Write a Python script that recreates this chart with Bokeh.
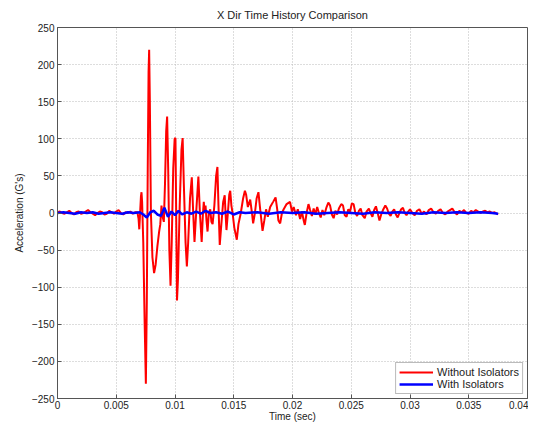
from bokeh.plotting import figure
from bokeh.models import Legend, LegendItem, FixedTicker, Range1d
from bokeh.embed import file_html
from bokeh.resources import INLINE

# ---- data: (time [s], acceleration [G]) ----
red_points = [
    (0.0000, 1), (0.0002, 2), (0.0004, 0), (0.0006, -1), (0.0008, 1), (0.0010, 3),
    (0.0012, 0), (0.0014, -2), (0.0016, 1), (0.0018, 2), (0.0020, -1), (0.0022, 0),
    (0.0024, 2), (0.0026, 4), (0.0028, 1), (0.0030, -1), (0.0032, -3), (0.0034, 0),
    (0.0036, 2), (0.0038, 1), (0.0040, -2), (0.0042, -1), (0.0044, 3), (0.0046, 1),
    (0.0048, -1), (0.0050, 2), (0.0052, 4), (0.0054, 0), (0.0056, -2), (0.0058, 1),
    (0.0060, 0), (0.0062, 2), (0.0064, -1), (0.0066, 1), (0.0068, 1),
    (0.00690, -8), (0.00696, -22), (0.00703, 0), (0.00710, 22), (0.00715, 28),
    (0.00720, 15), (0.00730, -40), (0.00742, -150), (0.00752, -230), (0.00760, -120),
    (0.00768, 60), (0.00775, 190), (0.00780, 220), (0.00786, 150), (0.00795, 0),
    (0.00808, -60), (0.00822, -81), (0.00835, -70), (0.00850, -45), (0.00865, -25),
    (0.00875, -15), (0.00885, 10), (0.00895, -5), (0.00905, -12), (0.00915, 40),
    (0.00925, 110), (0.00933, 130), (0.00942, 60), (0.00952, -50), (0.00962, -98),
    (0.00972, -40), (0.00985, 60), (0.00997, 100), (0.01004, 101), (0.01010, 0),
    (0.01017, -118), (0.01025, -90), (0.01040, 10), (0.01055, 85), (0.01065, 101),
    (0.01075, 40), (0.01090, -40), (0.01101, -72), (0.01112, -40), (0.01128, 20),
    (0.01143, 48), (0.01155, 0), (0.01166, -39), (0.01180, 0), (0.01199, 49),
    (0.01212, 0), (0.01227, -39), (0.01238, 0), (0.01245, 15), (0.01252, 0),
    (0.01260, 10), (0.01268, -10), (0.01277, -25), (0.01288, 0), (0.01300, 5),
    (0.01310, -12), (0.01320, -15), (0.01335, 10), (0.01350, 50), (0.01361, 62),
    (0.01370, 10), (0.01381, -43), (0.01392, -20), (0.01410, 15), (0.01423, 24),
    (0.01430, 0), (0.01438, -23), (0.01450, 0), (0.01462, 25), (0.01470, 30),
    (0.01480, 10), (0.01490, 0), (0.01505, -20), (0.01526, -36), (0.01540, -15),
    (0.01560, 0), (0.01580, 20), (0.01595, 30), (0.01605, 25), (0.01620, 8),
    (0.01640, 18), (0.01655, 0), (0.01665, -14), (0.01680, 0), (0.01695, 20),
    (0.01710, 28), (0.01725, 5), (0.01745, -24), (0.01760, -10), (0.01775, 5),
    (0.01790, -5), (0.01810, 8), (0.01835, 15), (0.01856, 21), (0.01870, 5),
    (0.01880, -10), (0.01895, -14), (0.01910, 0), (0.01925, 5), (0.01950, 12),
    (0.01979, 15), (0.01995, 2), (0.02010, 8), (0.02030, -3), (0.02045, 5),
    (0.02065, -8), (0.02080, 2), (0.02095, -10), (0.02105, -16), (0.02120, 0),
    (0.02136, 12), (0.02150, 4), (0.02165, -4), (0.02180, 6), (0.02195, -2),
    (0.02210, 8), (0.02225, 0), (0.02240, -6), (0.02255, 4), (0.02270, -3),
    (0.02290, 8), (0.02305, 14), (0.02320, 10), (0.02335, -2), (0.02350, -7),
    (0.02365, 3), (0.02380, -2), (0.02395, 6), (0.02415, 12), (0.02430, 10),
    (0.02445, -3), (0.02460, -5), (0.02475, 5), (0.02490, 2), (0.02505, 13),
    (0.02520, 12), (0.02535, 0), (0.02550, -4), (0.02565, 3), (0.02580, 6),
    (0.02595, -3), (0.02615, -7), (0.02630, 2), (0.02650, 6), (0.02665, 0),
    (0.02680, -5), (0.02695, 4), (0.02710, 9), (0.02725, 0), (0.02740, -10),
    (0.02755, -2), (0.02770, 4), (0.02790, 10), (0.02805, 6), (0.02820, -1),
    (0.02835, -4), (0.02850, 2), (0.02865, 5), (0.02880, -2), (0.02895, -6),
    (0.02910, 0), (0.02925, 5), (0.02940, 7), (0.02955, 0), (0.02970, -3),
    (0.02985, 2), (0.03000, 5), (0.0302, 0), (0.0304, -3), (0.0306, 3), (0.0308, 5),
    (0.0310, -1), (0.0312, 2), (0.0314, -2), (0.0316, 4), (0.0318, 6), (0.0320, 1),
    (0.0322, -1), (0.0324, 3), (0.0326, 5), (0.0328, 0), (0.0330, -2), (0.0332, 2),
    (0.0334, 4), (0.0336, 6), (0.0338, 1), (0.0340, -2), (0.0342, 3), (0.0344, 1),
    (0.0346, 4), (0.0348, 0), (0.0350, -1), (0.0352, 3), (0.0354, 1), (0.0356, 4),
    (0.0358, 2), (0.0360, 0), (0.0362, 2), (0.0364, 3), (0.0366, 1), (0.0368, 2),
    (0.0370, 0), (0.0372, 1), (0.0374, -1), (0.0375, -2),
]

blue_points = [
    (0.0000, 0), (0.0005, 1), (0.0010, 0), (0.0015, -1), (0.0020, 1), (0.0025, 0),
    (0.0030, 1), (0.0035, -1), (0.0040, 0), (0.0045, 1), (0.0050, 0), (0.0055, -1),
    (0.0060, 1), (0.0065, 0), (0.0070, 1), (0.0073, -2), (0.0076, -6), (0.0079, 1),
    (0.0082, 3), (0.0085, -2), (0.0088, -4), (0.0091, 7), (0.0094, -5), (0.0097, 2),
    (0.0100, -3), (0.0103, 3), (0.0106, -2), (0.0110, 1), (0.0114, -1), (0.0118, 2),
    (0.0122, -1), (0.0126, 3), (0.0130, 0), (0.0135, 1), (0.0140, -1), (0.0145, 2),
    (0.0150, -2), (0.0155, 1), (0.0160, 0), (0.0170, 1), (0.0180, -1), (0.0190, 1),
    (0.0200, 0), (0.0210, 1), (0.0220, -1), (0.0230, 0), (0.0240, 1), (0.0250, 0),
    (0.0260, -1), (0.0270, 1), (0.0280, 0), (0.0290, 1), (0.0300, 0), (0.0310, -1),
    (0.0320, 1), (0.0330, 0), (0.0340, 1), (0.0350, 0), (0.0360, 1), (0.0370, 0),
    (0.0375, -1),
]

red_t = [t for t, _ in red_points]
red_v = [v for _, v in red_points]
blue_t = [t for t, _ in blue_points]
blue_v = [v for _, v in blue_points]

x_ticks = [0, 0.005, 0.01, 0.015, 0.02, 0.025, 0.03, 0.035, 0.04]
y_ticks = [-250, -200, -150, -100, -50, 0, 50, 100, 150, 200, 250]
series_labels = ["Without Isolators", "With Isolators"]
x_label = "Time (sec)"
y_label = "Acceleration (G's)"

FONT = "Liberation Sans"

p = figure(width=528, height=424, output_backend="svg", toolbar_location=None,
           x_range=Range1d(0, 0.04), y_range=Range1d(-250, 250),
           min_border_left=57, min_border_right=1, min_border_top=4, min_border_bottom=20)

p.title.text = "X Dir Time History Comparison"
p.title.align = "center"
p.title.text_font = FONT
p.title.text_font_size = "11px"
p.title.text_font_style = "normal"
p.title.text_color = "#222222"
p.title.standoff = 13

r_red = p.line(red_t, red_v, line_color="#ff0000", line_width=2)
r_blue = p.line(blue_t, blue_v, line_color="#0000ff", line_width=2.5)

for ax in (p.xaxis[0], p.yaxis[0]):
    ax.major_label_text_font = FONT
    ax.major_label_text_font_size = "10px"
    ax.major_label_text_color = "#222222"
    ax.axis_label_text_font = FONT
    ax.axis_label_text_font_size = "10px"
    ax.axis_label_text_font_style = "normal"
    ax.axis_label_text_color = "#222222"
    ax.major_tick_in = 4
    ax.major_tick_out = 0
    ax.minor_tick_in = 0
    ax.minor_tick_out = 0
    ax.axis_line_color = "#555555"
    ax.major_tick_line_color = "#555555"

p.xaxis[0].major_label_standoff = 2
p.xaxis[0].axis_label_standoff = -1
p.yaxis[0].major_label_standoff = 3
p.yaxis[0].axis_label_standoff = 4
p.xaxis[0].ticker = FixedTicker(ticks=x_ticks)
p.yaxis[0].ticker = FixedTicker(ticks=y_ticks)
p.xaxis[0].axis_label = x_label
p.yaxis[0].axis_label = y_label
p.xaxis[0].major_label_overrides = {t: ("0" if t == 0 else f"{t:g}") for t in x_ticks}

p.grid.grid_line_color = "#bbbbbb"
p.grid.grid_line_dash = "1 2"
p.grid.grid_line_width = 1
p.outline_line_color = "#555555"
p.outline_line_width = 1
p.background_fill_color = "white"
p.border_fill_color = "white"

legend = Legend(items=[LegendItem(label=series_labels[0], renderers=[r_red]),
                       LegendItem(label=series_labels[1], renderers=[r_blue])],
                location="bottom_right")
legend.label_text_font = FONT
legend.label_text_font_size = "11px"
legend.label_text_color = "#222222"
legend.glyph_width = 34
legend.glyph_height = 12
legend.label_height = 12
legend.spacing = 0
legend.padding = 3
legend.margin = 4
legend.label_standoff = 4
legend.border_line_color = "#777777"
legend.background_fill_alpha = 1
p.add_layout(legend)

open("out.html", "w").write(file_html(p, INLINE))
